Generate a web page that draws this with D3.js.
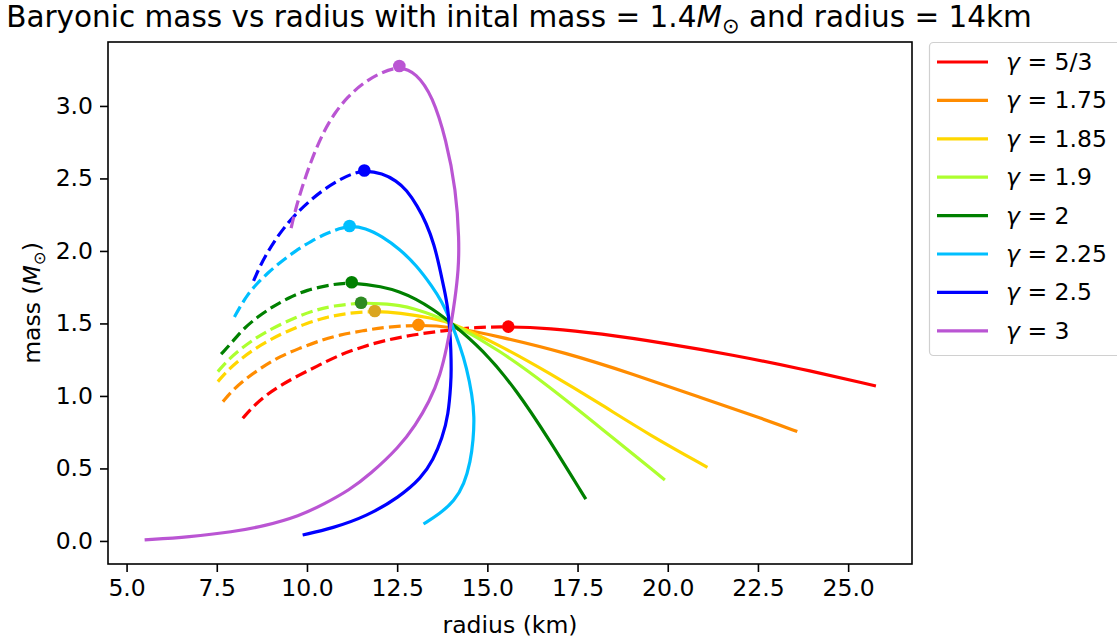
<!DOCTYPE html>
<html>
<head>
<meta charset="utf-8">
<script src="https://cdn.jsdelivr.net/npm/d3@7"></script>
<style>
  body { margin: 0; background: #fff; }
  svg { font-family: "DejaVu Sans", sans-serif; }
</style>
</head>
<body>
<svg id="chart" width="1117" height="641"></svg>
<script>
// ── data: [radius km, mass Msun] ──
const gammaLabels = ["5/3", "1.75", "1.85", "1.9", "2", "2.25", "2.5", "3"];

const curve53 = [[8.22,0.846],[8.50,0.926],[8.87,1.007],[9.29,1.076],[9.79,1.145],[10.35,1.214],[10.90,1.283],[11.55,1.340],[12.19,1.386],[12.93,1.421],[13.76,1.450],[14.69,1.474],[15.58,1.478],[16.72,1.467],[18.10,1.432],[19.95,1.363],[21.80,1.283],[23.64,1.191],[25.77,1.069]];
const curve175 = [[7.67,0.961],[7.94,1.041],[8.32,1.122],[8.78,1.202],[9.24,1.271],[9.79,1.329],[10.35,1.381],[10.90,1.421],[11.55,1.450],[12.19,1.476],[13.09,1.490],[14.00,1.478],[15.33,1.410],[17.19,1.297],[19.02,1.152],[20.87,0.993],[22.73,0.834],[23.59,0.754]];
const curve185 = [[7.53,1.099],[7.81,1.179],[8.13,1.248],[8.50,1.317],[8.96,1.386],[9.42,1.443],[9.98,1.501],[10.53,1.543],[11.09,1.570],[11.88,1.586],[12.56,1.574],[13.48,1.536],[13.99,1.506],[15.33,1.352],[16.72,1.157],[18.10,0.950],[19.49,0.731],[21.10,0.508]];
const curve19 = [[7.53,1.168],[7.81,1.248],[8.13,1.317],[8.50,1.386],[8.87,1.443],[9.33,1.501],[9.79,1.552],[10.25,1.593],[10.71,1.621],[11.50,1.643],[12.10,1.636],[12.56,1.626],[13.02,1.598],[13.48,1.559],[13.99,1.506],[15.33,1.317],[16.72,1.064],[18.10,0.788],[19.92,0.421]];
const curve2 = [[7.62,1.288],[7.94,1.374],[8.22,1.460],[8.64,1.547],[9.05,1.616],[9.47,1.674],[9.98,1.731],[10.71,1.770],[11.24,1.784],[12.10,1.754],[12.56,1.719],[13.02,1.670],[13.48,1.600],[13.99,1.506],[14.87,1.320],[15.80,1.045],[16.72,0.697],[17.73,0.288]];
const curve225 = [[7.99,1.545],[8.16,1.621],[8.35,1.697],[8.60,1.772],[8.91,1.848],[9.27,1.924],[9.68,2.000],[10.12,2.069],[10.57,2.124],[10.90,2.155],[11.18,2.172],[11.62,2.159],[12.09,2.099],[12.56,2.014],[13.03,1.903],[13.48,1.752],[13.73,1.655],[13.99,1.512],[14.25,1.338],[14.42,1.200],[14.58,1.007],[14.64,0.855],[14.61,0.697],[14.53,0.545],[14.36,0.393],[14.09,0.276],[13.67,0.186],[13.23,0.117]];
const curve25 = [[8.52,1.793],[8.68,1.886],[8.88,1.979],[9.10,2.069],[9.35,2.155],[9.65,2.245],[10.04,2.338],[10.48,2.428],[10.98,2.503],[11.28,2.534],[11.59,2.555],[12.09,2.536],[12.48,2.483],[12.76,2.421],[13.06,2.310],[13.31,2.191],[13.53,2.041],[13.67,1.892],[13.81,1.731],[13.90,1.616],[13.96,1.455],[13.99,1.317],[14.00,1.179],[13.99,1.090],[13.92,0.869],[13.75,0.710],[13.50,0.559],[13.17,0.434],[12.56,0.303],[11.65,0.169],[10.71,0.088],[9.88,0.041]];
const curve3 = [[9.56,2.157],[9.70,2.306],[9.93,2.490],[10.16,2.650],[10.44,2.812],[10.76,2.950],[11.13,3.064],[11.55,3.157],[12.01,3.226],[12.56,3.276],[13.03,3.228],[13.48,3.069],[13.86,2.766],[14.13,2.421],[14.22,2.076],[14.20,1.869],[14.10,1.662],[14.00,1.503],[13.89,1.352],[13.70,1.145],[13.39,0.959],[13.01,0.800],[12.56,0.648],[11.73,0.455],[11.18,0.352],[10.48,0.255],[9.79,0.172],[8.82,0.103],[7.94,0.062],[6.75,0.028],[5.50,0.007]];

const curves = [curve53, curve175, curve185, curve19, curve2, curve225, curve25, curve3];

const xTicks = [5, 7.5, 10, 12.5, 15, 17.5, 20, 22.5, 25];
const yTicks = [0, 0.5, 1, 1.5, 2, 2.5, 3];

// ── styles ──
const lineColors = ["#ff0000", "#ff8c00", "#ffd700", "#adff2f", "#008000", "#00bfff", "#0000ff", "#ba55d3"];
const peakColors = ["#ff0000", "#ff8c00", "#daa520", "#2e8b22", "#008000", "#00bfff", "#0000ff", "#ba55d3"];

const svg = d3.select("#chart");
const plot = { left: 108, right: 912, top: 42, bottom: 564 };
const fontSize = 23.5;
const lw = 3.2;

const x = d3.scaleLinear().domain([4.485, 26.77]).range([plot.left, plot.right]);
const y = d3.scaleLinear().domain([-0.159, 3.441]).range([plot.bottom, plot.top]);

// b-spline smooths the reading noise of the hand-picked points
const line = d3.line()
  .x((d) => x(d[0]))
  .y((d) => y(d[1]))
  .curve(d3.curveBasis);

svg.append("defs").append("clipPath").attr("id", "clip")
  .append("rect")
  .attr("x", plot.left).attr("y", plot.top)
  .attr("width", plot.right - plot.left).attr("height", plot.bottom - plot.top);

const g = svg.append("g").attr("clip-path", "url(#clip)");

// one path per curve: dashed up to the mass maximum, solid after it
curves.forEach((c, i) => {
  const k = d3.maxIndex(c, (d) => d[1]);
  const path = g.append("path")
    .attr("d", line(c))
    .attr("fill", "none")
    .attr("stroke", lineColors[i])
    .attr("stroke-width", lw);

  const node = path.node();
  const total = node.getTotalLength();
  const px = x(c[k][0]), py = y(c[k][1]);
  let split = 0, bestD = Infinity;
  for (let s = 0; s <= total; s += 0.5) {
    const p = node.getPointAtLength(s);
    const dd = (p.x - px) ** 2 + (p.y - py) ** 2;
    if (dd < bestD) { bestD = dd; split = s; }
  }

  const on = 3.7 * lw, off = 1.6 * lw;
  const dash = [];
  let pos = 0;
  while (pos + on + off <= split) { dash.push(on, off); pos += on + off; }
  const rest = split - pos;
  if (rest <= on) dash.push(rest, 0); else dash.push(on, rest - on);
  dash.push(total + 10, 0);
  path.attr("stroke-dasharray", dash.map((v) => v.toFixed(2)).join(" "));

  g.append("circle")
    .attr("cx", px)
    .attr("cy", py)
    .attr("r", 6.3)
    .attr("fill", peakColors[i]);
});

// ── axes ──
const xAxis = svg.append("g")
  .attr("transform", `translate(0,${plot.bottom})`)
  .call(d3.axisBottom(x).tickValues(xTicks).tickFormat(d3.format(".1f")).tickSize(8).tickPadding(7));
const yAxis = svg.append("g")
  .attr("transform", `translate(${plot.left},0)`)
  .call(d3.axisLeft(y).tickValues(yTicks).tickFormat(d3.format(".1f")).tickSize(8).tickPadding(7));

[xAxis, yAxis].forEach((ax) => {
  ax.select(".domain").remove();
  ax.selectAll(".tick line").attr("stroke", "#000").attr("stroke-width", 1.6);
  ax.selectAll(".tick text")
    .attr("fill", "#000")
    .style("font-family", "DejaVu Sans")
    .style("font-size", fontSize + "px");
});

svg.append("rect")
  .attr("x", plot.left).attr("y", plot.top)
  .attr("width", plot.right - plot.left).attr("height", plot.bottom - plot.top)
  .attr("fill", "none").attr("stroke", "#000").attr("stroke-width", 1.6);

// ── labels ──
svg.append("text")
  .attr("x", (plot.left + plot.right) / 2)
  .attr("y", 633)
  .attr("text-anchor", "middle")
  .style("font-size", fontSize + "px")
  .text("radius (km)");

const yl = svg.append("text")
  .attr("transform", `translate(40,${(plot.top + plot.bottom) / 2}) rotate(-90)`)
  .attr("text-anchor", "middle")
  .style("font-size", fontSize + "px");
yl.append("tspan").text("mass (");
yl.append("tspan").attr("font-style", "italic").text("M");
yl.append("tspan").attr("dy", 5).style("font-size", "16.5px").text("\u2299");
yl.append("tspan").attr("dy", -5).text(")");

const title = svg.append("text")
  .attr("x", 519)
  .attr("y", 27)
  .attr("text-anchor", "middle")
  .style("font-size", "29.5px");
title.append("tspan").text("Baryonic mass vs radius with inital mass = 1.4");
title.append("tspan").attr("font-style", "italic").text("M");
title.append("tspan").attr("dy", 6).style("font-size", "21px").text("\u2299");
title.append("tspan").attr("dy", -6).text(" and radius = 14km");

// ── legend ──
const legend = svg.append("g");
legend.append("rect")
  .attr("x", 929.5).attr("y", 42.5)
  .attr("width", 200).attr("height", 313)
  .attr("rx", 4)
  .attr("fill", "#fff").attr("fill-opacity", 0.8)
  .attr("stroke", "#d0d0d0").attr("stroke-width", 1.2);

gammaLabels.forEach((lab, i) => {
  const yy = 62 + i * 38.4;
  legend.append("line")
    .attr("x1", 937).attr("x2", 988)
    .attr("y1", yy).attr("y2", yy)
    .attr("stroke", lineColors[i]).attr("stroke-width", lw);
  const t = legend.append("text")
    .attr("x", 1006).attr("y", yy + 8)
    .style("font-size", fontSize + "px");
  t.append("tspan").attr("font-style", "italic").text("\u03b3");
  t.append("tspan").text(" = " + lab);
});
</script>
</body>
</html>
